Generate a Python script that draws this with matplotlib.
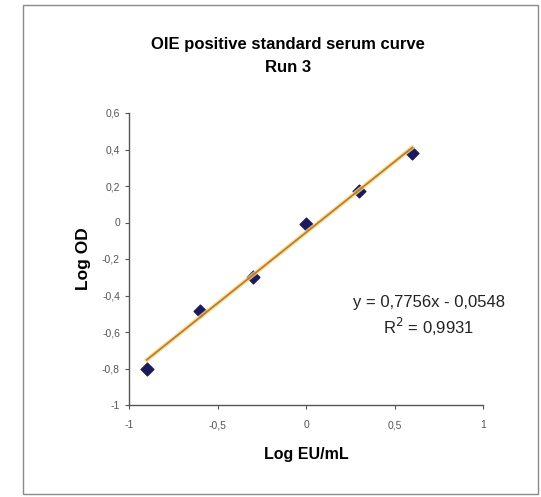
import matplotlib
matplotlib.use("Agg")
import matplotlib.pyplot as plt
import numpy as np
from matplotlib.patches import Rectangle

plt.rcParams['font.family'] = ['Liberation Sans', 'DejaVu Sans']

# data
log_eu = [-0.9, -0.6, -0.3, 0.0, 0.3, 0.6]
log_od = [-0.80, -0.485, -0.30, -0.01, 0.17, 0.38]
slope = 0.7756
intercept = -0.0548
r2 = 0.9931

x_ticks = [-1, -0.5, 0, 0.5, 1]
x_ticklabels = ["-1", "-0,5", "0", "0,5", "1"]
y_ticks = [-1, -0.8, -0.6, -0.4, -0.2, 0, 0.2, 0.4, 0.6]
y_ticklabels = ["-1", "-0,8", "-0,6", "-0,4", "-0,2", "0", "0,2", "0,4", "0,6"]

fig = plt.figure(figsize=(5.41, 4.97), dpi=100)
fig.patch.set_facecolor('white')

# outer chart frame
fig.patches.append(Rectangle((23 / 541, 1 - 494 / 497), 515 / 541, 489 / 497,
                             transform=fig.transFigure, fill=False,
                             edgecolor='#8a8a8a', linewidth=1.0))

ax = fig.add_axes([129 / 541, 1 - 405 / 497, 354 / 541, 292 / 497])
ax.set_facecolor('none')

ax.scatter(log_eu, log_od, marker='D', s=42, color='#1c1a5a', zorder=3)

line_x = np.array([log_eu[0], log_eu[-1]])
line_y = slope * line_x + intercept
ax.plot(line_x, line_y, color='#f3de7a', linewidth=3.2, zorder=4, alpha=0.8)
ax.plot(line_x, line_y, color='#c0783c', linewidth=1.3, zorder=5)

ax.set_xlim(-1, 1)
ax.set_ylim(-1, 0.6)
ax.set_xticks(x_ticks)
ax.set_xticklabels(x_ticklabels)
ax.set_yticks(y_ticks)
ax.set_yticklabels(y_ticklabels)
ax.tick_params(labelsize=7.5, colors='#555555', length=3, width=0.8, direction='out')
ax.tick_params(axis='x', pad=8)

for side in ['top', 'right']:
    ax.spines[side].set_visible(False)
for side in ['left', 'bottom']:
    ax.spines[side].set_color('#555555')
    ax.spines[side].set_linewidth(1.0)

ax.set_xlabel("Log EU/mL", fontsize=11.5, fontweight='bold', labelpad=12)
ax.set_ylabel("Log OD", fontsize=12.5, fontweight='bold', labelpad=8)

fig.text(0.533, 1 - 45 / 497, "OIE positive standard serum curve",
         ha='center', va='center', fontsize=12, fontweight='bold')
fig.text(0.533, 1 - 67 / 497, "Run 3",
         ha='center', va='center', fontsize=12, fontweight='bold')

fig.text(429 / 541, 1 - 302 / 497, f"y = {slope:.4f}x - {abs(intercept):.4f}".replace('.', ','),
         ha='center', va='center', fontsize=12, color='#222222')
fig.text(429 / 541, 1 - 327 / 497, f"R$^2$ = {r2:.4f}".replace('.', ','),
         ha='center', va='center', fontsize=12, color='#222222')

fig.savefig("out.png", dpi=100)
